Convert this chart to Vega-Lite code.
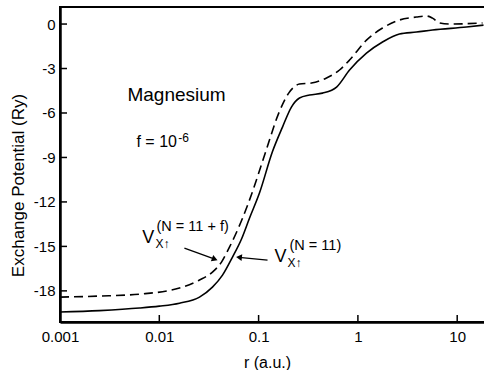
{
  "$schema": "https://vega.github.io/schema/vega-lite/v6.json",
  "width": 426,
  "height": 315,
  "autosize": {"type": "none"},
  "padding": {"left": 60, "top": 7, "right": 0, "bottom": 48},
  "background": "white",
  "config": {
    "font": "Liberation Sans",
    "view": {"stroke": "black", "strokeWidth": 2},
    "axis": {
      "domainColor": "black",
      "domainWidth": 2.5,
      "ticks": false,
      "labelColor": "black",
      "labelFontSize": 15,
      "labelFlush": false,
      "labelOverlap": false,
      "titleColor": "black",
      "titleFontWeight": "normal",
      "grid": false
    }
  },
  "datasets": {
    "curves": [
      {"series": "N=11", "r": 0.001, "v": -19.43},
      {"series": "N=11", "r": 0.0025, "v": -19.33},
      {"series": "N=11", "r": 0.00632, "v": -19.16},
      {"series": "N=11", "r": 0.01, "v": -19.03},
      {"series": "N=11", "r": 0.01597, "v": -18.83},
      {"series": "N=11", "r": 0.0254, "v": -18.42},
      {"series": "N=11", "r": 0.0343, "v": -17.75},
      {"series": "N=11", "r": 0.0433, "v": -16.94},
      {"series": "N=11", "r": 0.0546, "v": -15.72},
      {"series": "N=11", "r": 0.0673, "v": -14.5},
      {"series": "N=11", "r": 0.0809, "v": -13.1},
      {"series": "N=11", "r": 0.102, "v": -11.4},
      {"series": "N=11", "r": 0.138, "v": -8.6},
      {"series": "N=11", "r": 0.174, "v": -6.95},
      {"series": "N=11", "r": 0.214, "v": -5.6},
      {"series": "N=11", "r": 0.258, "v": -4.99},
      {"series": "N=11", "r": 0.326, "v": -4.79},
      {"series": "N=11", "r": 0.44, "v": -4.66},
      {"series": "N=11", "r": 0.61, "v": -4.25},
      {"series": "N=11", "r": 0.824, "v": -3.1},
      {"series": "N=11", "r": 1.22, "v": -1.96},
      {"series": "N=11", "r": 1.77, "v": -1.21},
      {"series": "N=11", "r": 2.62, "v": -0.67},
      {"series": "N=11", "r": 3.89, "v": -0.54},
      {"series": "N=11", "r": 5.64, "v": -0.4},
      {"series": "N=11", "r": 12.4, "v": -0.2},
      {"series": "N=11", "r": 18.4, "v": -0.07},
      {"series": "N=11+f", "r": 0.001, "v": -18.42},
      {"series": "N=11+f", "r": 0.0025, "v": -18.35},
      {"series": "N=11+f", "r": 0.00632, "v": -18.22},
      {"series": "N=11+f", "r": 0.01597, "v": -17.81},
      {"series": "N=11+f", "r": 0.0254, "v": -17.27},
      {"series": "N=11+f", "r": 0.0343, "v": -16.73},
      {"series": "N=11+f", "r": 0.0423, "v": -16.06},
      {"series": "N=11+f", "r": 0.0509, "v": -15.05},
      {"series": "N=11+f", "r": 0.0613, "v": -13.9},
      {"series": "N=11+f", "r": 0.0689, "v": -13.1},
      {"series": "N=11+f", "r": 0.0848, "v": -11.5},
      {"series": "N=11+f", "r": 0.118, "v": -8.6},
      {"series": "N=11+f", "r": 0.1596, "v": -6.01},
      {"series": "N=11+f", "r": 0.201, "v": -4.66},
      {"series": "N=11+f", "r": 0.258, "v": -4.05},
      {"series": "N=11+f", "r": 0.341, "v": -3.98},
      {"series": "N=11+f", "r": 0.483, "v": -3.64},
      {"series": "N=11+f", "r": 0.653, "v": -3.1},
      {"series": "N=11+f", "r": 0.824, "v": -2.43},
      {"series": "N=11+f", "r": 1.22, "v": -1.08},
      {"series": "N=11+f", "r": 1.77, "v": -0.27},
      {"series": "N=11+f", "r": 2.62, "v": 0.27},
      {"series": "N=11+f", "r": 3.89, "v": 0.47},
      {"series": "N=11+f", "r": 4.91, "v": 0.54},
      {"series": "N=11+f", "r": 5.64, "v": 0.4},
      {"series": "N=11+f", "r": 6.64, "v": 0.07},
      {"series": "N=11+f", "r": 8.36, "v": 0.0},
      {"series": "N=11+f", "r": 18.0, "v": 0.07}
    ],
    "xticks": [{"r": 0.001}, {"r": 0.01}, {"r": 0.1}, {"r": 1}, {"r": 10}],
    "yticks": [{"v": -18}, {"v": -15}, {"v": -12}, {"v": -9}, {"v": -6}, {"v": -3}, {"v": 0}],
    "arrows": [
      {"id": "a1", "r": 0.0179, "v": -15.11, "r2": 0.0362, "v2": -15.86},
      {"id": "a2", "r": 0.123, "v": -15.92, "r2": 0.0635, "v2": -15.74}
    ],
    "labels": [
      {"kind": "title", "text": "Magnesium", "r": 0.00478, "v": -5.2},
      {"kind": "note", "text": "f = 10", "r": 0.00589, "v": -8.3},
      {"kind": "noteSup", "text": "-6", "r": 0.0155, "v": -7.94},
      {"kind": "V", "text": "V", "r": 0.00673, "v": -14.78},
      {"kind": "sub", "text": "X↑", "r": 0.00916, "v": -15.11},
      {"kind": "sup", "text": "(N = 11 + f)", "r": 0.00937, "v": -13.97},
      {"kind": "V", "text": "V", "r": 0.1445, "v": -16.06},
      {"kind": "sub", "text": "X↑", "r": 0.1954, "v": -16.4},
      {"kind": "sup", "text": "(N = 11)", "r": 0.2048, "v": -15.25}
    ]
  },
  "layer": [
    {
      "data": {"name": "curves"},
      "transform": [{"filter": "datum.series === 'N=11'"}],
      "mark": {"type": "line", "color": "black", "strokeWidth": 1.6, "interpolate": "monotone", "clip": true},
      "encoding": {
        "x": {
          "field": "r", "type": "quantitative",
          "scale": {"type": "log", "domain": [0.001, 19.5], "nice": false},
          "axis": {"values": [0.001, 0.01, 0.1, 1, 10], "format": "~g", "labelPadding": 7, "title": "r (a.u.)", "titleFontSize": 16, "titleX": 207, "titleY": 32, "titleBaseline": "top"}
        },
        "y": {
          "field": "v", "type": "quantitative",
          "scale": {"domain": [-20.1, 1.15], "nice": false, "zero": false},
          "axis": {"values": [-18, -15, -12, -9, -6, -3, 0], "labelExpr": "toString(datum.value)", "labelPadding": 5, "title": "Exchange Potential (Ry)", "titleFontSize": 17, "titleX": -33, "titleY": 178}
        }
      }
    },
    {
      "data": {"name": "curves"},
      "transform": [{"filter": "datum.series === 'N=11+f'"}],
      "mark": {"type": "line", "color": "black", "strokeWidth": 1.6, "strokeDash": [9, 5], "interpolate": "monotone", "clip": true},
      "encoding": {
        "x": {"field": "r", "type": "quantitative"},
        "y": {"field": "v", "type": "quantitative"}
      }
    },
    {
      "data": {"name": "xticks"},
      "mark": {"type": "rule", "color": "black", "strokeWidth": 1.5, "y2Offset": -7},
      "encoding": {
        "x": {"field": "r", "type": "quantitative"},
        "y": {"datum": -20.1},
        "y2": {"datum": -20.1}
      }
    },
    {
      "data": {"name": "yticks"},
      "mark": {"type": "rule", "color": "black", "strokeWidth": 1.5, "x2Offset": 7},
      "encoding": {
        "y": {"field": "v", "type": "quantitative"},
        "x": {"datum": 0.001},
        "x2": {"datum": 0.001}
      }
    },
    {
      "data": {"name": "arrows"},
      "mark": {"type": "rule", "color": "black", "strokeWidth": 1.3},
      "encoding": {
        "x": {"field": "r", "type": "quantitative"},
        "y": {"field": "v", "type": "quantitative"},
        "x2": {"field": "r2"},
        "y2": {"field": "v2"}
      }
    },
    {
      "data": {"name": "arrows"},
      "transform": [{"filter": "datum.id === 'a1'"}],
      "mark": {"type": "point", "shape": "triangle-right", "filled": true, "color": "black", "size": 45, "angle": 21, "opacity": 1},
      "encoding": {
        "x": {"field": "r2", "type": "quantitative"},
        "y": {"field": "v2", "type": "quantitative"}
      }
    },
    {
      "data": {"name": "arrows"},
      "transform": [{"filter": "datum.id === 'a2'"}],
      "mark": {"type": "point", "shape": "triangle-left", "filled": true, "color": "black", "size": 45, "angle": 6, "opacity": 1},
      "encoding": {
        "x": {"field": "r2", "type": "quantitative"},
        "y": {"field": "v2", "type": "quantitative"}
      }
    },
    {
      "data": {"name": "labels"},
      "transform": [{"filter": "datum.kind === 'title'"}],
      "mark": {"type": "text", "align": "left", "baseline": "alphabetic", "fontSize": 19, "color": "black"},
      "encoding": {"x": {"field": "r", "type": "quantitative"}, "y": {"field": "v", "type": "quantitative"}, "text": {"field": "text"}}
    },
    {
      "data": {"name": "labels"},
      "transform": [{"filter": "datum.kind === 'note'"}],
      "mark": {"type": "text", "align": "left", "baseline": "alphabetic", "fontSize": 16, "color": "black"},
      "encoding": {"x": {"field": "r", "type": "quantitative"}, "y": {"field": "v", "type": "quantitative"}, "text": {"field": "text"}}
    },
    {
      "data": {"name": "labels"},
      "transform": [{"filter": "datum.kind === 'noteSup'"}],
      "mark": {"type": "text", "align": "left", "baseline": "alphabetic", "fontSize": 12, "color": "black"},
      "encoding": {"x": {"field": "r", "type": "quantitative"}, "y": {"field": "v", "type": "quantitative"}, "text": {"field": "text"}}
    },
    {
      "data": {"name": "labels"},
      "transform": [{"filter": "datum.kind === 'V'"}],
      "mark": {"type": "text", "align": "left", "baseline": "alphabetic", "fontSize": 18, "color": "black"},
      "encoding": {"x": {"field": "r", "type": "quantitative"}, "y": {"field": "v", "type": "quantitative"}, "text": {"field": "text"}}
    },
    {
      "data": {"name": "labels"},
      "transform": [{"filter": "datum.kind === 'sub'"}],
      "mark": {"type": "text", "align": "left", "baseline": "alphabetic", "fontSize": 12, "color": "black"},
      "encoding": {"x": {"field": "r", "type": "quantitative"}, "y": {"field": "v", "type": "quantitative"}, "text": {"field": "text"}}
    },
    {
      "data": {"name": "labels"},
      "transform": [{"filter": "datum.kind === 'sup'"}],
      "mark": {"type": "text", "align": "left", "baseline": "alphabetic", "fontSize": 14.5, "color": "black"},
      "encoding": {"x": {"field": "r", "type": "quantitative"}, "y": {"field": "v", "type": "quantitative"}, "text": {"field": "text"}}
    }
  ]
}
